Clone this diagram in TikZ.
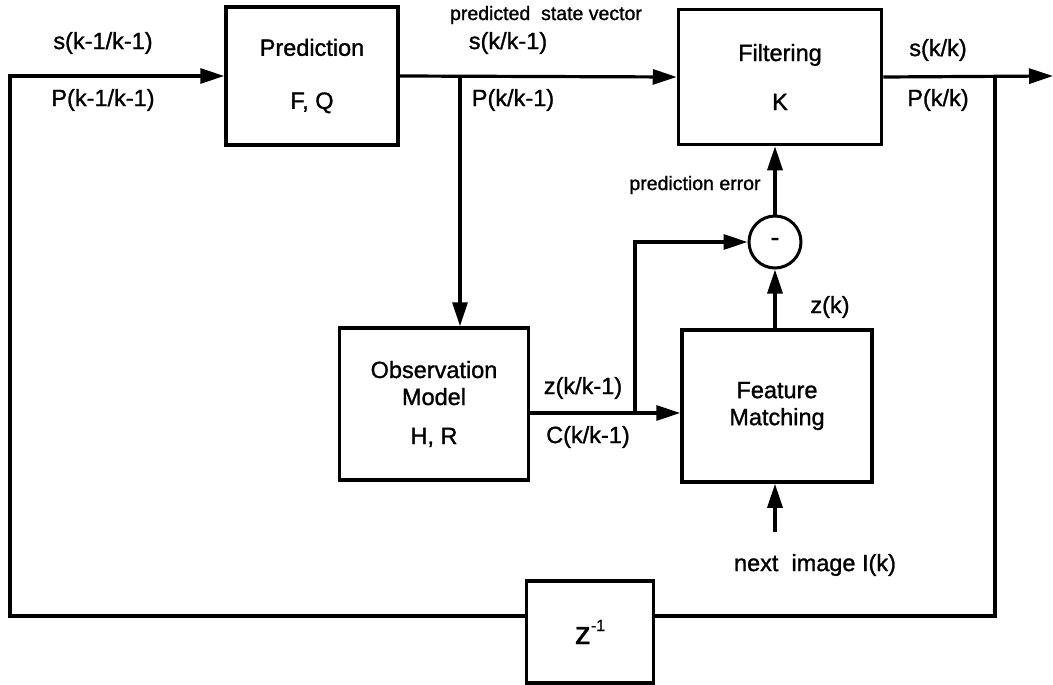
\documentclass[tikz,border=0pt]{standalone}
\usepackage{fontspec}
\setmainfont{Liberation Sans}[FakeBold=1.2]
\usetikzlibrary{arrows.meta}
\begin{document}
\begin{tikzpicture}[x=1pt,y=-1pt,>={Triangle[length=24pt,width=15pt]},line width=3.2pt,
	every node/.style={font=\fontsize{23.5}{27}\selectfont,inner sep=0pt},
	blok/.style={draw,line width=3.5pt,align=center},
	klein/.style={font=\fontsize{19.5}{22}\selectfont}]
	\useasboundingbox (0,0) rectangle (1053,685);
	% blokken
	\node[blok,minimum width=172pt,minimum height=138pt] (pred) at (312,76) {Prediction\\[26pt]F, Q};
	\node[blok,minimum width=203pt,minimum height=135pt] (filt) at (780,77) {Filtering\\[22pt]K};
	\node[blok,minimum width=189pt,minimum height=152pt] (obs) at (434,404) {Observation\\Model\\[12pt]H, R};
	\node[blok,minimum width=190pt,minimum height=152pt] (feat) at (777,406) {Feature\\Matching};
	\node[blok,minimum width=127pt,minimum height=102pt] (delay) at (590,632) {{\fontsize{32}{34}\selectfont z}\raisebox{13pt}{\fontsize{16}{18}\selectfont -1}};
	\node[draw,circle,line width=3pt,minimum size=52pt,font=\fontsize{26}{28}\selectfont] (diff) at (775,242) {-};
	% hulppunten
	\coordinate (tap) at (460,76);
	\coordinate (tapout) at (995,76);
	\coordinate (out) at (1053,76);
	\coordinate (zy) at (0,413);
	\coordinate (split) at (635,413);
	\coordinate (bl) at (10,616);
	\coordinate (br) at (995,616);
	\coordinate (imgin) at (775,532);
	% verbindingen
	\draw[->] (bl -| delay.west) -- (bl) |- (pred.west);
	\draw[->] (pred.east) -- (filt.west);
	\draw[->] (tap) -- (tap |- obs.north);
	\draw[->] (filt.east) -- (out);
	\draw (tapout) -- (br) -- (br -| delay.east);
	\draw[->] (obs.east |- zy) -- (feat.west |- zy);
	\draw[->] (split) |- (diff.west);
	\draw[->] (diff |- feat.north) -- (diff.south);
	\draw[->] (diff.north) -- (diff |- filt.south);
	\draw[->] (imgin) -- (imgin |- feat.south);
	% labels
	\node (sprev) at (103,43) {s(k-1/k-1)};
	\node (pprev) at (103,100) {P(k-1/k-1)};
	\node[klein] (predlbl) at (546,15) {predicted\ \ state vector};
	\node (spred) at (508,43) {s(k/k-1)};
	\node (ppred) at (513,100) {P(k/k-1)};
	\node (supd) at (938,50) {s(k/k)};
	\node (pupd) at (938,100) {P(k/k)};
	\node[klein] (errlbl) at (695,185) {prediction error};
	\node (zk) at (830,307) {z(k)};
	\node (zpred) at (583,388) {z(k/k-1)};
	\node (cpred) at (588,437) {C(k/k-1)};
	\node (img) at (815,565) {next\ \ image I(k)};
\end{tikzpicture}
\end{document}
